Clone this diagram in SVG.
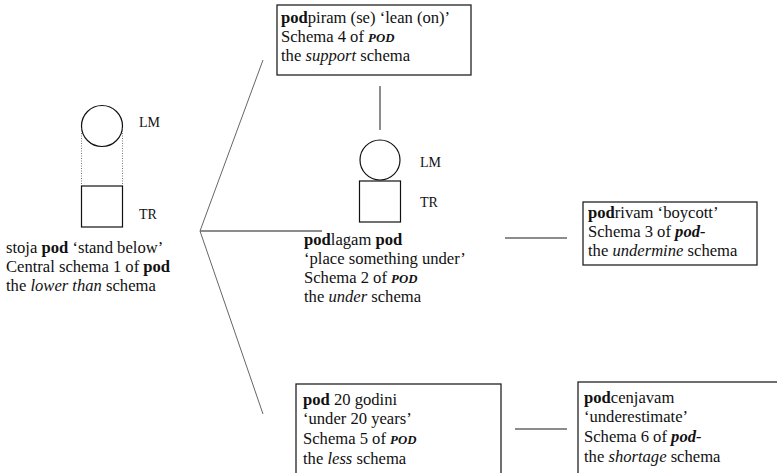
<svg xmlns="http://www.w3.org/2000/svg" width="777" height="473" viewBox="0 0 777 473">
<style>
text{font-family:"Liberation Serif","Times New Roman",serif;font-size:16.6px;fill:#111}
.b{font-weight:bold}
.i{font-style:italic}
.sc{font-weight:bold;font-style:italic;font-size:12.8px}
.box{fill:#fff;stroke:#222;stroke-width:1.3}
.shape{fill:none;stroke:#111;stroke-width:1.2}
.dot{stroke:#555;stroke-width:0.8;stroke-dasharray:1 1.5}
.conn{stroke:#666;stroke-width:1.5;fill:none}
.thin{stroke:#666;stroke-width:1;fill:none}
.lbl{font-size:14px}
</style>
<rect width="777" height="473" fill="#fff"/>
<g id="connectors">
<line class="thin" x1="200" y1="231" x2="263" y2="60"/>
<line class="thin" x1="200" y1="231" x2="263" y2="414"/>
<line class="conn" x1="200" y1="231" x2="322" y2="231"/>
<line class="conn" x1="380" y1="86" x2="380" y2="130"/>
<line class="conn" x1="505" y1="238" x2="567" y2="238"/>
<line class="conn" x1="515" y1="429" x2="567" y2="429"/>
</g>
<g id="schema1">
<circle class="shape" cx="102" cy="126" r="20.5"/>
<line class="dot" x1="81.5" y1="128" x2="81.5" y2="186"/>
<line class="dot" x1="122.5" y1="128" x2="122.5" y2="186"/>
<rect class="shape" x="81.5" y="186" width="41" height="41"/>
<text class="lbl" x="139" y="127">LM</text>
<text class="lbl" x="139" y="219">TR</text>
<text x="6" y="253"><tspan>stoja </tspan><tspan class="b">pod</tspan><tspan> ‘stand below’</tspan></text>
<text x="6" y="272"><tspan>Central schema 1 of </tspan><tspan class="b">pod</tspan></text>
<text x="6" y="291"><tspan>the </tspan><tspan class="i">lower than</tspan><tspan> schema</tspan></text>
</g>
<g id="schema4">
<rect class="box" x="277" y="5" width="194" height="70"/>
<text x="281" y="23"><tspan class="b">pod</tspan><tspan>piram (se) ‘lean (on)’</tspan></text>
<text x="281" y="42"><tspan>Schema 4 of </tspan><tspan class="sc">POD</tspan></text>
<text x="281" y="61"><tspan>the </tspan><tspan class="i">support</tspan><tspan> schema</tspan></text>
</g>
<g id="schema2">
<circle class="shape" cx="380" cy="160" r="20"/>
<rect class="shape" x="359.5" y="181" width="41" height="41"/>
<text class="lbl" x="420" y="167">LM</text>
<text class="lbl" x="420" y="207">TR</text>
<text x="304" y="245"><tspan class="b">pod</tspan><tspan>lagam </tspan><tspan class="b">pod</tspan></text>
<text x="304" y="264">‘place something under’</text>
<text x="304" y="283"><tspan>Schema 2 of </tspan><tspan class="sc">POD</tspan></text>
<text x="304" y="302"><tspan>the </tspan><tspan class="i">under</tspan><tspan> schema</tspan></text>
</g>
<g id="schema3">
<rect class="box" x="583" y="202" width="174" height="63"/>
<text x="588" y="218"><tspan class="b">pod</tspan><tspan>rivam ‘boycott’</tspan></text>
<text x="588" y="237"><tspan>Schema 3 of </tspan><tspan class="b i">pod-</tspan></text>
<text x="588" y="256"><tspan>the </tspan><tspan class="i">undermine</tspan><tspan> schema</tspan></text>
</g>
<g id="schema5">
<rect class="box" x="296" y="384" width="205" height="100"/>
<text x="303" y="405"><tspan class="b">pod</tspan><tspan> 20 godini</tspan></text>
<text x="303" y="424">‘under 20 years’</text>
<text x="303" y="444"><tspan>Schema 5 of </tspan><tspan class="sc">POD</tspan></text>
<text x="303" y="464"><tspan>the </tspan><tspan class="i">less</tspan><tspan> schema</tspan></text>
</g>
<g id="schema6">
<rect class="box" x="578" y="382" width="210" height="100"/>
<text x="584" y="403"><tspan class="b">pod</tspan><tspan>cenjavam</tspan></text>
<text x="584" y="422">‘underestimate’</text>
<text x="584" y="442"><tspan>Schema 6 of </tspan><tspan class="b i">pod-</tspan></text>
<text x="584" y="462"><tspan>the </tspan><tspan class="i">shortage</tspan><tspan> schema</tspan></text>
</g>
</svg>
